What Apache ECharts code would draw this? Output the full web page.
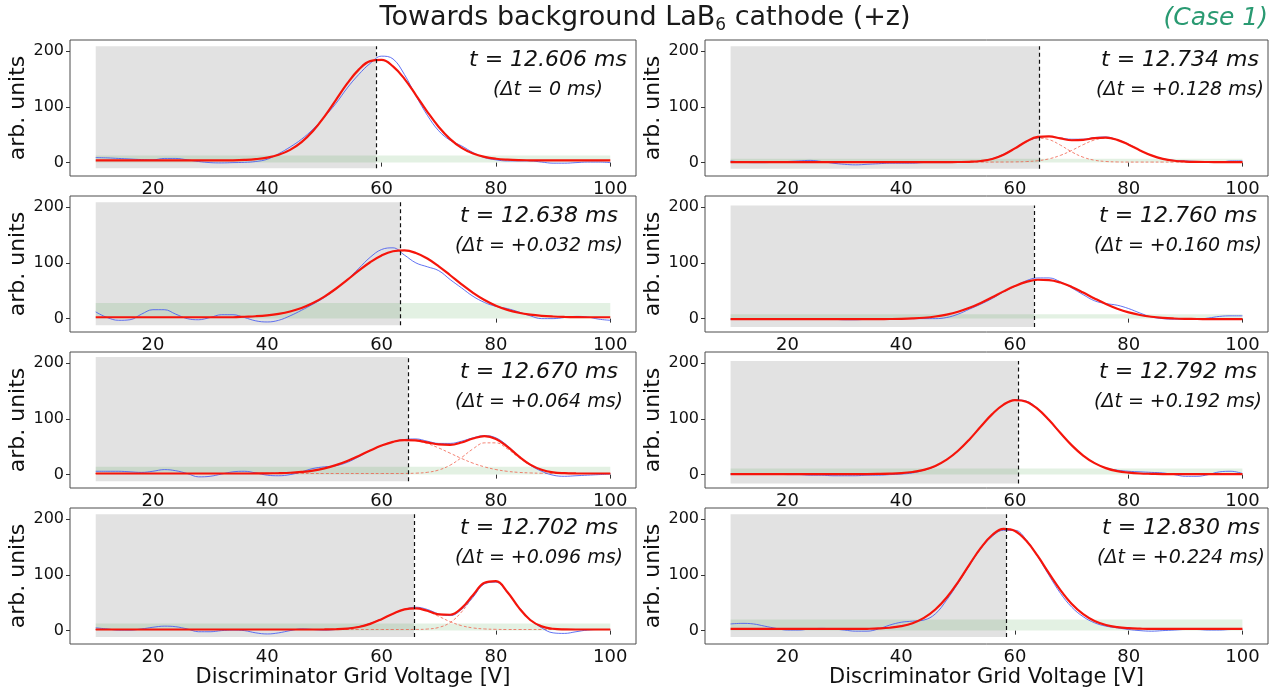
<!DOCTYPE html>
<html><head><meta charset="utf-8">
<script src="https://cdn.jsdelivr.net/npm/echarts@6/dist/echarts.min.js"></script>
<style>html,body{margin:0;padding:0;background:#fff}#c{width:1278px;height:690px}</style>
</head><body><div id="c"></div>
<script>
// ---------------- data ----------------
const voltage = [10,12,14,16,18,20,22,24,26,28,30,32,34,36,38,40,42,44,46,48,50,52,54,56,58,60,62,64,66,68,70,72,74,76,78,80,82,84,86,88,90,92,94,96,98,100];
const xTicks = [20,40,60,80,100];
const yTicks = [0,100,200];
const timeLabels = ['t = 12.606 ms','t = 12.638 ms','t = 12.670 ms','t = 12.702 ms','t = 12.734 ms','t = 12.760 ms','t = 12.792 ms','t = 12.830 ms'];
const deltaLabels = ['(Δt = 0 ms)','(Δt = +0.032 ms)','(Δt = +0.064 ms)','(Δt = +0.096 ms)','(Δt = +0.128 ms)','(Δt = +0.160 ms)','(Δt = +0.192 ms)','(Δt = +0.224 ms)'];
const peakLine = [59.0, 63.2, 64.6, 65.7, 64.3, 63.4, 60.5, 58.5];
const grayLow  = [-10, -12, -12, -11.5, -11, -15, -16, -11.5];
const grayHigh = [209, 209, 211, 209, 209, 203, 204, 209];
const greenTop = [13, 28, 14, 13, 7, 8, 11, 20];

const raw1 = [9,8.5,7.5,6.5,5.5, 5,7.5,7.5,5,2, 0,-0.5,0,0.5,2, 6,16,28,42,60, 82,106,134,158,178, 191,186,158,120,85, 57,40,30,18,9, 5,3,3,3,1, -1,-1,0,1,1, 0];
const fit1 = [4,4,4,4,4, 4,4,4,4,4, 4,4,4.2,4.9,6.3, 9.0,14.1,22.9,36.9,56.8, 82.6,112.2,142.1,166.9,182.1, 184.2,172.7,150.3,121.3,91.2, 64,42.2,26.5,16.3,10.2, 6.9,5.3,4.5,4.2,4, 4,4,4,4,4, 4];

const raw2 = [12,2,-3,-2,8, 16,16,8,0,-2, 2,7,7,2,-4, -6,-3,5,15,26, 38,53,70,90,110, 124,127,114,100,93, 86,70,55,40,29, 22,18,12,5,0, 0,2,4,3,-1, -3];
const fit2 = [2.5,2.5,2.5,2.5,2.5, 2.5,2.5,2.5,2.5,2.5, 2.5,2.5,2.5,3.4,4.3, 5.9,8.6,12.8,19.1,27.9, 39.5,53.6,69.5,86,101.2, 113.4,120.8,122.3,117.7,107.8, 93.8,77.8,61.4,46.3,33.4, 23.2,15.7,10.5,7.1,5, 3.8,3.1,2.7,2.5,2.5, 2.5];

const raw3 = [6,6,6,5,4, 6,9,7,2,-4, -3,1,5,6,3, -1,-2,0,5,11, 14,16,22,32,43, 52,59,63,64,60, 56,56,60,66,70, 66,52,33,17,6, -1,-3,-2,-1,0, 1];
const fit3 = [2,2,2,2,2, 2,2,2,2,2, 2,2,2,2,2.1, 2.3,2.7,3.4,4.9,7.3, 11.3,17,24.5,33.6,43.2, 52.1,58.8,62.0,61.4,57.9, 54.1,53.4,57.6,64.8,68.9, 64.1,50.2,32.7,18,8.7, 4.1,2.6,2.1,2,2, 2];
const comp3a = [2,2,2,2,2, 2,2,2,2,2, 2,2,2,2,2.1, 2.3,2.7,3.4,4.9,7.3, 11.3,17,24.5,33.6,43.2, 52.1,58.8,61.9,60.8,55.8, 47.8,38.4,28.9,20.5,13.9, 9.1,5.9,4,3,2.4, 2,2,2,2,2, 2];
const comp3b = [2,2,2,2,2, 2,2,2,2,2, 2,2,2,2,2, 2,2,2,2,2, 2,2,2,2,2, 2,2,2.1,2.6,4.1, 8.3,17,30.7,46.3,57, 57,46.3,30.7,17,8.3, 4.1,2.6,2.1,2,2, 2];

const raw4 = [5,3,1,1,3, 6,8,7,3,-2, -2,0,1,0,-4, -6,-4,0,3,2, 1,2,4,7,13, 21,30,38,42,38, 30,27,38,60,84, 87,68,42,20,5, -4,-5,-2,1,2, 2];
const fit4 = [2,2,2,2,2, 2,2,2,2,2, 2,2,2,2,2, 2,2,2,2,2, 2.1,2.5,3.7,6.5,12.1, 20.6,30.4,38,39.9,35.6, 29.3,28.5,40.5,63.9,85.7, 88.7,69.4,41.2,19.1,7.6, 3.3,2.2,2,2,2, 2];
const comp4a = [2,2,2,2,2, 2,2,2,2,2, 2,2,2,2,2, 2,2,2,2,2, 2.1,2.5,3.7,6.5,12.1, 20.6,30.4,38,39.8,34.8, 25.6,16,8.9,4.8,3, 2.3,2,2,2,2, 2,2,2,2,2, 2];
const comp4b = [2,2,2,2,2, 2,2,2,2,2, 2,2,2,2,2, 2,2,2,2,2, 2,2,2,2,2, 2,2,2,2.1,2.8, 5.7,14.5,33.6,61.1,84.7, 88.4,69.4,41.2,19.1,7.6, 3.3,2.2,2,2,2, 2];

const raw5 = [3,1,0,0,1, 2,3,4,2,-1, -3,-4,-3,-2,-1, -1,-1,0,0,0, 0.5,1.5,3,7,15, 26,38,45,47,44, 42,42,45,46,41, 33,22,13,7,4, 3,2,1,1,3, 3];
const fit5 = [1,1,1,1,1, 1,1,1,1,1, 1,1,1,1,1, 1,1,1,1,1, 1.1,1.5,2.9,6.5,14.1, 25.5,37.9,46.1,47.1,43.4, 40.1,40.9,44,45,40.9, 32.2,21.9,13,6.8,3.4, 1.9,1.3,1.1,1,1, 1];
const comp5a = [1,1,1,1,1, 1,1,1,1,1, 1,1,1,1,1, 1,1,1,1,1, 1.1,1.5,2.9,6.5,14, 25.2,37,43.7,41.3,31.4, 19.2,9.7,4.3,2,1.2, 1,1,1,1,1, 1,1,1,1,1, 1];
const comp5b = [1,1,1,1,1, 1,1,1,1,1, 1,1,1,1,1, 1,1,1,1,1, 1,1,1,1,1.1, 1.3,1.9,3.4,6.8,13, 21.9,32.2,40.7,44,40.7, 32.2,21.9,13,6.8,3.4, 1.9,1.3,1.1,1,1, 1];

const raw6 = [-1,-1,-1,-1,-1, -1,-1,0,0,-1, -2,-2,-1,0,0, 0,0,0,0,2, 8,17,26,36,48, 58,68,73,73,66, 55,43,32,27,24, 18,10,3,0,-1, -1,-1,1,4,5, 5];
const fit6 = [-1,-1,-1,-1,-1, -1,-1,-1,-1,-1, -1,-1,-1,-0.9,-0.7, -0.35,0.35,1.6,3.8,7.3, 12.4,19.4,28.2,38.4,48.9, 58.5,65.9,69.7,69.2,64.7, 56.8,46.8,36.2,26.3,17.8, 11.2,6.5,3.3,1.3,0.2, -0.4,-0.7,-0.9,-1,-1, -1];

const raw7 = [1,1,1,1,1, 0,0,-1,-1,-2, -2,-2,-1,-1,0, 1,3,8,15,27, 43,63,86,108,125, 134,132,118,97,74, 52,34,21,12,8, 6,5,4,3,0, -3,-3,0,5,6, 2];
const fit7 = [1,1,1,1,1, 1,1,1,1,1, 1,1,1,1.2,1.65, 2.6,4.7,8.6,15.6,26.8, 42.8,63.2,86.3,108.5,125.6, 133.7,130.9,117.9,97.8,74.6, 52.5,34.2,20.6,11.7,6.3, 3.5,2,1.4,1,1, 1,1,1,1,1, 1];

const raw8 = [12,13,12,8,4, 1,1,3,4,3, 1,-1,-1,3,10, 15,17,19,30,55, 85,117,147,169,180, 180,163,133,99,67, 42,25,14,8,5, 2,0,-1,0,1, 2,2,1,1,2, 2];
const fit8 = [3,3,3,3,3, 3,3,3,3,3, 3,3,3.3,3.9,5.2, 8,13.3,22.8,37.9,59.5, 87.2,118.6,148.4,171.6,182.5, 178.8,161.2,134,102.7,72.8, 47.8,29.6,17.4,10.2,6.3, 4.4,3.5,3,3,3, 3,3,3,3,3, 3];

const rawList = [raw1,raw2,raw3,raw4,raw5,raw6,raw7,raw8];
const fitList = [fit1,fit2,fit3,fit4,fit5,fit6,fit7,fit8];
const compList = [[],[],[comp3a,comp3b],[comp4a,comp4b],[comp5a,comp5b],[],[],[]];

// ---------------- layout ----------------
const FONT = 'DejaVu Sans';
const colLeft = [70, 705], colWidth = [566, 563];
const rowTop = [40, 196, 352, 508], rowHeight = 136;
const annotX = [548, 539, 539, 539, 1180, 1178, 1178, 1181];

const pairs = arr => voltage.map((v, i) => [v, arr[i]]);

const grids = [], xAxes = [], yAxes = [], series = [], graphics = [];
for (let p = 0; p < 8; p++) {
  const col = p < 4 ? 0 : 1, row = p % 4;
  grids.push({left: colLeft[col], top: rowTop[row], width: colWidth[col], height: rowHeight,
    show: true, borderColor: '#4d4d4d', borderWidth: 1, backgroundColor: 'transparent'});
  xAxes.push({gridIndex: p, type: 'value', min: 5.5, max: 104.5,
    axisLine: {show: false},
    axisTick: {show: true, customValues: xTicks, length: 4, lineStyle: {color: '#333'}},
    axisLabel: {customValues: xTicks, fontSize: 18, color: '#111', margin: 4, fontFamily: FONT},
    splitLine: {show: false},
    name: row === 3 ? 'Discriminator Grid Voltage [V]' : '', nameLocation: 'middle', nameGap: 18,
    nameTextStyle: {fontSize: 21, color: '#111', fontFamily: FONT}});
  yAxes.push({gridIndex: p, type: 'value', min: -24, max: 220,
    axisLine: {show: false},
    axisTick: {show: true, customValues: yTicks, length: 4, lineStyle: {color: '#333'}},
    axisLabel: {customValues: yTicks, fontSize: 16, color: '#111', margin: 6, fontFamily: FONT},
    splitLine: {show: false},
    name: 'arb. units', nameLocation: 'middle', nameGap: 29,
    nameTextStyle: {fontSize: 22, color: '#111', fontFamily: FONT}});

  // background regions
  series.push({type: 'line', xAxisIndex: p, yAxisIndex: p, data: [[10, 0]], symbol: 'none', silent: true, z: 1,
    lineStyle: {opacity: 0},
    markArea: {silent: true, label: {show: false}, data: [
      [{coord: [10, grayLow[p]], itemStyle: {color: '#e2e2e2'}}, {coord: [peakLine[p], grayHigh[p]]}],
      [{coord: [10, 0], itemStyle: {color: 'rgba(70,160,70,0.15)'}}, {coord: [100, greenTop[p]]}]
    ]}});
  compList[p].forEach(c => series.push({type: 'line', xAxisIndex: p, yAxisIndex: p, data: pairs(c), smooth: 0.4,
    symbol: 'none', silent: true, z: 2, lineStyle: {color: 'rgba(240,90,70,0.75)', width: 1, type: [3, 2]}}));
  series.push({type: 'line', xAxisIndex: p, yAxisIndex: p, data: pairs(rawList[p]), smooth: 0.4,
    symbol: 'none', silent: true, z: 3, lineStyle: {color: 'rgba(70,90,240,0.85)', width: 1}});
  series.push({type: 'line', xAxisIndex: p, yAxisIndex: p, data: pairs(fitList[p]), smooth: 0.4,
    symbol: 'none', silent: true, z: 4, lineStyle: {color: '#f5150b', width: 2.2}});
  series.push({type: 'line', xAxisIndex: p, yAxisIndex: p, data: [[peakLine[p], 0]], symbol: 'none', silent: true, z: 5,
    lineStyle: {opacity: 0},
    markLine: {silent: true, symbol: ['none', 'none'], label: {show: false},
      lineStyle: {color: '#111', width: 1.2, type: [4, 3]},
      data: [[{coord: [peakLine[p], grayLow[p]]}, {coord: [peakLine[p], grayHigh[p]]}]]}});

  graphics.push({type: 'text', x: annotX[p], y: rowTop[row] + 20, z: 10,
    style: {text: timeLabels[p], fontSize: 22, fontStyle: 'italic', fontFamily: FONT, fill: '#111',
      align: 'center', verticalAlign: 'middle', textAlign: 'center', textVerticalAlign: 'middle'}});
  graphics.push({type: 'text', x: annotX[p], y: rowTop[row] + 50, z: 10,
    style: {text: deltaLabels[p], fontSize: 19, fontStyle: 'italic', fontFamily: FONT, fill: '#111',
      align: 'center', verticalAlign: 'middle', textAlign: 'center', textVerticalAlign: 'middle'}});
}

graphics.push({type: 'text', x: 645, y: 18, z: 10,
  style: {text: '{a|Towards background LaB}{s|6}{a| cathode (+z)}',
    rich: {a: {fontSize: 27, lineHeight: 32, fontFamily: FONT, fill: '#1a1a1a'},
           s: {fontSize: 17, lineHeight: 17, fontFamily: FONT, fill: '#1a1a1a', verticalAlign: 'bottom'}},
    align: 'center', verticalAlign: 'middle', textAlign: 'center', textVerticalAlign: 'middle'}});
graphics.push({type: 'text', x: 1268, y: 18, z: 10,
  style: {text: '(Case 1)', fontSize: 25, fontStyle: 'italic', fontFamily: FONT, fill: '#2a9a72',
    align: 'right', verticalAlign: 'middle', textAlign: 'right', textVerticalAlign: 'middle'}});

const chart = echarts.init(document.getElementById('c'), null, {renderer: 'canvas'});
chart.setOption({animation: false, backgroundColor: '#fff', grid: grids, xAxis: xAxes, yAxis: yAxes, series: series, graphic: graphics});
</script></body></html>
